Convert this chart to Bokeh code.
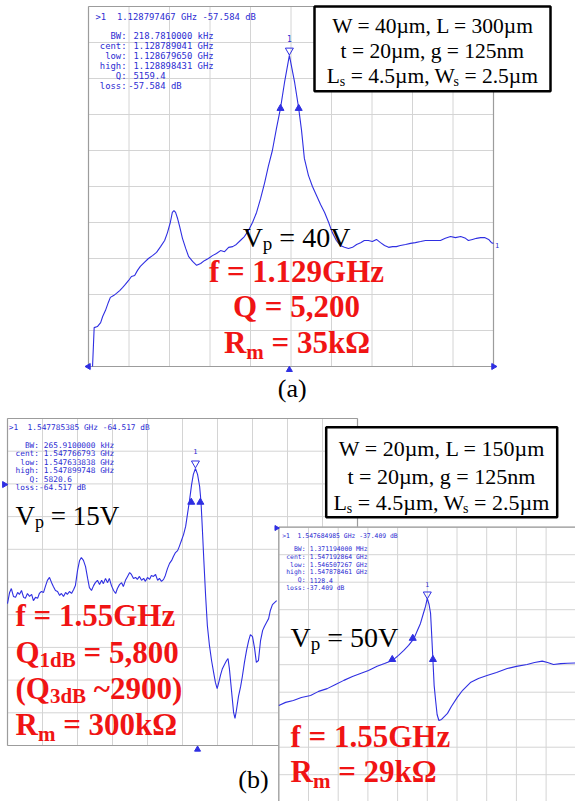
from bokeh.plotting import figure
from bokeh.models import Range1d
from bokeh.core.properties import value
from bokeh.embed import file_html
from bokeh.resources import INLINE

# ---------------------------------------------------------------- data
# Panel (a): W=40um, L=300um, Vp=40V  (x: sweep position in screen divisions, y: |S21| in divisions)
a_freq_div = [0.10, 0.14, 0.22, 0.30, 0.35, 0.42, 0.49, 0.54, 0.62, 0.69,
              0.77, 0.84, 0.91, 0.99, 1.06, 1.14, 1.21, 1.28, 1.38, 1.48,
              1.58, 1.68, 1.78, 1.88, 1.95, 2.02, 2.07, 2.11, 2.15, 2.20,
              2.25, 2.32, 2.40, 2.47, 2.57, 2.67, 2.77, 2.86, 2.96, 3.06,
              3.16, 3.26, 3.36, 3.46, 3.56, 3.65, 3.75, 3.85, 3.95, 4.05,
              4.15, 4.25, 4.35, 4.44, 4.54, 4.64, 4.74, 4.84, 4.96, 5.09,
              5.19, 5.26, 5.33, 5.43, 5.53, 5.63, 5.73, 5.83, 5.93, 6.02,
              6.12, 6.22, 6.32, 6.42, 6.52, 6.62, 6.72, 6.81, 6.91, 7.01,
              7.11, 7.21, 7.31, 7.41, 7.51, 7.60, 7.70, 7.83, 7.95, 8.07,
              8.20, 8.32, 8.44, 8.57, 8.69, 8.81, 8.94, 9.06, 9.19, 9.31,
              9.38, 9.48, 9.58, 9.68, 9.78, 9.88, 9.95, 10.00]
a_mag_div = [0.00, 1.08, 1.11, 1.22, 1.39, 1.56, 1.78, 1.92, 1.97, 2.03,
             2.11, 2.19, 2.28, 2.39, 2.50, 2.53, 2.67, 2.78, 2.89, 3.00,
             3.08, 3.17, 3.33, 3.50, 3.72, 4.00, 4.28, 4.33, 4.28, 4.11,
             3.89, 3.56, 3.28, 3.06, 2.92, 2.81, 2.86, 2.94, 3.00, 3.08,
             3.14, 3.22, 3.19, 3.31, 3.33, 3.39, 3.50, 3.61, 3.78, 4.00,
             4.28, 4.67, 5.11, 5.56, 6.00, 6.61, 7.17, 7.89, 8.64, 7.89,
             7.17, 6.56, 5.78, 5.31, 5.00, 4.75, 4.50, 4.28, 4.00, 3.72,
             3.50, 3.36, 3.31, 3.28, 3.31, 3.39, 3.44, 3.50, 3.50, 3.47,
             3.53, 3.44, 3.36, 3.31, 3.33, 3.33, 3.36, 3.39, 3.42, 3.44,
             3.47, 3.50, 3.50, 3.50, 3.50, 3.56, 3.61, 3.58, 3.61, 3.56,
             3.50, 3.53, 3.56, 3.58, 3.58, 3.53, 3.44, 3.42]
a_peak = [4.96, 8.64]
a_bw_x = [4.74, 5.19]
a_bw_y = [7.17, 7.17]
a_head = [">1", "1.128797467 GHz -57.584 dB"]
a_vals = ["218.7810000 kHz", "1.128789041 GHz", "1.128679650 GHz",
          "1.128898431 GHz", "5159.4", "-57.584 dB"]

# Panel (b) left: W=20um, L=150um, Vp=15V
b1_freq_div = [0.00, 0.06, 0.11, 0.17, 0.23, 0.29, 0.34, 0.40, 0.46, 0.51,
               0.57, 0.63, 0.69, 0.74, 0.80, 0.86, 0.91, 0.97, 1.03, 1.09,
               1.14, 1.20, 1.26, 1.31, 1.37, 1.43, 1.49, 1.54, 1.60, 1.66,
               1.71, 1.77, 1.83, 1.89, 1.94, 2.00, 2.06, 2.11, 2.17, 2.23,
               2.29, 2.34, 2.40, 2.46, 2.51, 2.57, 2.63, 2.69, 2.74, 2.80,
               2.86, 2.91, 2.97, 3.03, 3.09, 3.14, 3.20, 3.26, 3.31, 3.37,
               3.43, 3.49, 3.54, 3.60, 3.66, 3.71, 3.77, 3.83, 3.89, 3.94,
               4.00, 4.06, 4.11, 4.17, 4.23, 4.29, 4.34, 4.40, 4.46, 4.51,
               4.57, 4.63, 4.69, 4.74, 4.80, 4.86, 4.91, 4.97, 5.03, 5.09,
               5.14, 5.20, 5.26, 5.31, 5.37, 5.43, 5.49, 5.53, 5.57, 5.61,
               5.66, 5.71, 5.77, 5.83, 5.89, 5.94, 5.99, 6.03, 6.09, 6.14,
               6.20, 6.26, 6.30, 6.34, 6.40, 6.46, 6.50, 6.54, 6.60, 6.66,
               6.71, 6.77, 6.83, 6.89, 6.94, 7.00, 7.06, 7.11, 7.17, 7.23,
               7.29, 7.34, 7.40, 7.46, 7.51, 7.57, 7.63, 7.69]
b1_mag_div = [4.34, 4.68, 4.80, 4.56, 4.53, 4.68, 4.62, 4.74, 4.53, 4.50,
              4.65, 4.56, 4.62, 4.43, 4.53, 4.50, 4.65, 4.71, 4.68, 4.89,
              5.05, 5.14, 4.98, 4.86, 4.74, 4.71, 4.59, 4.65, 4.56, 4.68,
              4.62, 4.71, 4.65, 4.77, 4.89, 5.35, 5.66, 5.75, 5.66, 5.47,
              5.11, 4.83, 4.74, 4.89, 4.98, 5.05, 4.92, 5.05, 4.95, 5.11,
              4.98, 5.11, 4.89, 4.74, 4.65, 4.80, 4.92, 4.98, 4.86, 5.05,
              5.17, 5.29, 5.23, 5.11, 5.14, 5.08, 5.17, 5.05, 5.11, 5.02,
              5.14, 5.08, 5.20, 5.17, 5.23, 5.05, 5.11, 5.02, 5.08, 5.20,
              5.41, 5.57, 5.66, 5.78, 5.90, 5.96, 6.09, 6.27, 6.45, 6.70,
              7.06, 7.49, 7.98, 8.29, 8.47, 8.29, 7.92, 7.43, 6.57, 5.66,
              4.59, 3.67, 3.06, 2.60, 2.23, 1.93, 1.74, 1.90, 2.17, 2.35,
              2.48, 2.60, 2.66, 2.35, 1.68, 1.01, 0.83, 1.07, 1.50, 1.80,
              2.11, 2.54, 2.91, 3.21, 3.39, 3.33, 2.97, 2.54, 2.60, 3.21,
              3.52, 3.64, 3.76, 3.88, 4.13, 4.31, 4.37, 4.43]
b1_peak = [5.37, 8.47]
b1_bw_x = [5.25, 5.51]
b1_bw_y = [7.44, 7.44]
b1_head = [">1", "1.547785385 GHz -64.517 dB"]
b1_vals = ["265.9100000 kHz", "1.547766793 GHz", "1.547633838 GHz",
           "1.547899748 GHz", "5820.6", "-64.517 dB"]

# Panel (b) right: Vp=50V
b2_freq_div = [0.00, 0.23, 0.49, 0.76, 1.07, 1.34, 1.63, 1.91, 2.19, 2.48,
               2.75, 3.02, 3.31, 3.56, 3.82, 4.03, 4.21, 4.37, 4.55, 4.67,
               4.77, 4.87, 4.94, 5.00, 5.06, 5.11, 5.14, 5.19, 5.23, 5.28,
               5.33, 5.39, 5.48, 5.58, 5.68, 5.81, 6.01, 6.19, 6.45, 6.72,
               7.01, 7.33, 7.69, 8.00, 8.36, 8.61, 8.87, 9.05, 9.25, 9.49,
               9.72, 9.99]
b2_mag_div = [3.52, 3.63, 3.70, 3.81, 3.88, 4.03, 4.13, 4.28, 4.43, 4.57,
              4.68, 4.79, 4.94, 5.04, 5.15, 5.34, 5.52, 5.70, 5.95, 6.25,
              6.50, 6.87, 7.12, 7.41, 7.19, 6.87, 6.25, 5.15, 4.25, 3.70,
              3.19, 2.97, 3.01, 3.12, 3.23, 3.48, 3.81, 4.07, 4.35, 4.50,
              4.61, 4.72, 4.86, 4.94, 5.01, 5.08, 5.13, 5.08, 5.01, 5.04,
              5.05, 5.06]
b2_peak = [5.00, 7.41]
b2_bw_x = [3.82, 4.51, 5.19]
b2_bw_y = [5.19, 5.96, 5.19]
b2_head = [">1", "1.547684985 GHz -37.409 dB"]
b2_vals = ["1.371194000 MHz", "1.547192864 GHz", "1.546507267 GHz",
           "1.547878461 GHz", "1128.4", "-37.409 dB"]

readout_labels = ["BW:", "cent:", "low:", "high:", "Q:", "loss:"]

# ---------------------------------------------------------------- style
W, H = 575, 801
TRACE = "#2f2fe2"
TBLUE = "#2c2cd2"
GRID = "#d4d4d4"
FRAME = "#9c9c9c"
RED = "#f01414"
SERIF = value("Liberation Serif")
MONO = value("DejaVu Sans Mono")
KB = 0.35   # correction: renderer places the alphabetic baseline ~0.35 em below y

p = figure(width=W, height=H, x_range=Range1d(0, W), y_range=Range1d(H, 0),
           output_backend="svg", toolbar_location=None,
           x_axis_location=None, y_axis_location=None, min_border=0,
           outline_line_color=None, background_fill_color="white",
           border_fill_color="white")
p.xgrid.visible = False
p.ygrid.visible = False

# screen placement of the three analyser panels (left, right, top, bottom in px)
PANELS = {"a": (88.0, 493.0, 6.0, 366.0),
          "b1": (7.0, 357.0, 418.0, 745.0),
          "b2": (278.3, 575.3, 526.7, 801.7)}
xr, yr = {}, {}
for nm, (x0, x1, yt, yb) in PANELS.items():
    sx = (x1 - x0) / 10.0
    sy = (yb - yt) / 10.0
    xr[nm] = Range1d(start=-x0 / sx, end=(W - x0) / sx)
    yr[nm] = Range1d(start=(yb - H) / sy, end=yb / sy)
p.extra_x_ranges = xr
p.extra_y_ranges = yr


def R(nm):
    return dict(x_range_name=nm, y_range_name=nm)


def panel_grid(nm, sides):
    ks = list(range(11))
    p.segment(x0=ks, y0=[0] * 11, x1=ks, y1=[10] * 11, line_color=GRID, line_width=1, **R(nm))
    p.segment(x0=[0] * 11, y0=ks, x1=[10] * 11, y1=ks, line_color=GRID, line_width=1, **R(nm))
    edges = {"left": (0, 0, 0, 10), "right": (10, 0, 10, 10),
             "top": (0, 10, 10, 10), "bottom": (0, 0, 10, 0)}
    sel = [edges[s] for s in sides]
    p.segment(x0=[e[0] for e in sel], y0=[e[1] for e in sel],
              x1=[e[2] for e in sel], y1=[e[3] for e in sel],
              line_color=FRAME, line_width=1.2, **R(nm))


def trace(nm, xs, ys, peak, bwx, bwy, dy_mark, label_size):
    p.line(xs, ys, line_color=TRACE, line_width=1.1, **R(nm))
    p.scatter(bwx, bwy, marker="triangle", size=7, fill_color=TRACE, line_color=TRACE, **R(nm))
    p.scatter([peak[0]], [peak[1] + dy_mark], marker="inverted_triangle", size=8,
              fill_color=None, line_color=TRACE, line_width=1, **R(nm))
    p.text(x=[peak[0]], y=[peak[1] + 3.3 * dy_mark], text=["1"], text_font=MONO,
           text_font_size=f"{label_size}px", text_color=TBLUE, text_align="center",
           text_baseline="alphabetic", **R(nm))


def readout(x_first, y_first, x_lab, x_val, y0, dy, size, head, vals):
    cw = 0.602 * size
    fs = f"{size}px"
    off = KB * size
    p.text(x=[x_first], y=[y_first - off], text=[head[0]], text_font=MONO, text_font_size=fs,
           text_color=TBLUE, text_baseline="alphabetic")
    p.text(x=[x_first + 4 * cw], y=[y_first - off], text=[head[1]], text_font=MONO, text_font_size=fs,
           text_color=TBLUE, text_baseline="alphabetic")
    ys = [y0 + i * dy - off for i in range(len(readout_labels))]
    p.text(x=[x_lab] * len(ys), y=ys, text=readout_labels, text_font=MONO, text_font_size=fs,
           text_color=TBLUE, text_align="right", text_baseline="alphabetic")
    xs = [x_val - cw if v.startswith("-") else x_val for v in vals]
    p.text(x=xs, y=ys, text=vals, text_font=MONO, text_font_size=fs,
           text_color=TBLUE, text_align="left", text_baseline="alphabetic")


REG = {" ": .25, "(": .333, ")": .333, ",": .25, ".": .25, "=": .564, "~": .541,
       "V": .722, "W": .944, "L": .611, "a": .444, "b": .5, "g": .5, "m": .778,
       "n": .5, "p": .5, "s": .389, "t": .278, "µ": .5, "k": .5}
BOLD = {" ": .25, "(": .333, ")": .333, ",": .25, ".": .25, "=": .57, "~": .52,
        "B": .667, "G": .778, "H": .778, "Q": .778, "R": .722, "d": .556, "f": .333,
        "k": .556, "m": .833, "z": .444, "Ω": .77}


def tw(s, size, bold):
    tab = BOLD if bold else REG
    return sum(tab.get(c, .5) for c in s) * size


def rich(x, y, parts, align="left", color="black", bold=False):
    total = sum(tw(t, s, bold) for t, s, _ in parts)
    cx = x - total / 2 if align == "center" else x
    for t, s, dy in parts:
        lead = len(t) - len(t.lstrip(" "))
        body = t.lstrip(" ")
        p.text(x=[cx + tw(" " * lead, s, bold)], y=[y + dy - KB * s], text=[body], text_font=SERIF,
               text_font_size=f"{s}px", text_font_style="bold" if bold else "normal",
               text_color=color, text_align="left", text_baseline="alphabetic")
        cx += tw(t, s, bold)


# ---------------------------------------------------------------- panel (a)
panel_grid("a", ["left", "right", "top", "bottom"])
trace("a", a_freq_div, a_mag_div, a_peak, a_bw_x, a_bw_y, 0.14, 8)
p.scatter([a_peak[0]], [-0.09], marker="triangle", size=6, fill_color=TRACE, line_color=TRACE, **R("a"))
p.scatter([0.0, 10.0], [0.0, 0.0], marker="triangle", angle=[1.5708, -1.5708], size=6,
          fill_color=TRACE, line_color=TRACE, **R("a"))
p.text(x=[a_freq_div[-1] + 0.04], y=[a_mag_div[-1] - 0.04], text=["1"], text_font=MONO,
       text_font_size="7px", text_color=TBLUE, text_baseline="alphabetic", **R("a"))
readout(95, 19.3, 126, 133, 39.0, 9.86, 8.9, a_head, a_vals)

# ---------------------------------------------------------------- panel (b) left
panel_grid("b1", ["left", "right", "top", "bottom"])
trace("b1", b1_freq_div, b1_mag_div, b1_peak, b1_bw_x, b1_bw_y, 0.16, 7)
p.scatter([b1_peak[0] + 0.06], [-0.12], marker="triangle", size=6, fill_color=TRACE, line_color=TRACE, **R("b1"))
p.scatter([-0.09], [7.98], marker="triangle", angle=-1.5708, size=6, fill_color=TRACE, line_color=TRACE, **R("b1"))
readout(8.3, 430.0, 38.5, 43.3, 447.7, 8.4, 7.8, b1_head, b1_vals)

# ---------------------------------------------------------------- panel (b) right (on top)
p.quad(left=[0], right=[10.5], bottom=[-0.5], top=[10], fill_color="white", line_color=None, **R("b2"))
panel_grid("b2", ["left", "top"])
trace("b2", b2_freq_div, b2_mag_div, b2_peak, b2_bw_x, b2_bw_y, 0.15, 6.5)
p.scatter([-0.08], [9.97], marker="triangle", angle=-1.5708, size=5, fill_color=TRACE, line_color=TRACE, **R("b2"))
readout(281.7, 538.0, 305.0, 309.3, 550.7, 7.8, 6.4, b2_head, b2_vals)

# ---------------------------------------------------------------- parameter boxes
p.quad(left=[314, 325.7], right=[550, 556.7], top=[6, 426.7], bottom=[90.7, 516.7],
       fill_color="white", line_color="black", line_width=2.5)
rich(431, 33.3, [("W = 40µm, L = 300µm", 21.5, 0)], "center")
rich(431, 58.3, [("t = 20µm, g = 125nm", 21.5, 0)], "center")
rich(431, 83.3, [("L", 21.5, 0), ("s", 14, 3), (" = 4.5µm, W", 21.5, 0), ("s", 14, 3),
                 (" = 2.5µm", 21.5, 0)], "center")
rich(440, 456.0, [("W = 20µm, L = 150µm", 22, 0)], "center")
rich(440, 483.3, [("t = 20µm, g = 125nm", 22, 0)], "center")
rich(440, 510.0, [("L", 22, 0), ("s", 14, 3), (" = 4.5µm, W", 22, 0), ("s", 14, 3),
                  (" = 2.5µm", 22, 0)], "center")

# ---------------------------------------------------------------- annotations
rich(296, 246.7, [("V", 28, 0), ("p", 19, 2.5), (" = 40V", 28, 0)], "center")
rich(296, 281.7, [("f = 1.129GHz", 31, 0)], "center", RED, True)
rich(296, 316.7, [("Q = 5,200", 31, 0)], "center", RED, True)
rich(296, 353.0, [("R", 31, 0), ("m", 21, 6), (" = 35kΩ", 31, 0)], "center", RED, True)
rich(291.7, 396.7, [("(a)", 26, 0)], "center")

rich(15, 525.0, [("V", 27, 0), ("p", 18, 2.5), (" = 15V", 27, 0)])
rich(15, 626.0, [("f = 1.55GHz", 31, 0)], "left", RED, True)
rich(15, 663.3, [("Q", 31, 0), ("1dB", 21, 4), (" = 5,800", 31, 0)], "left", RED, True)
rich(15, 699.0, [("(Q", 31, 0), ("3dB", 21, 4), (" ~2900)", 31, 0)], "left", RED, True)
rich(15, 735.0, [("R", 31, 0), ("m", 21, 6), (" = 300kΩ", 31, 0)], "left", RED, True)
rich(253, 788.0, [("(b)", 26, 0)], "center")

rich(290, 646.7, [("V", 28, 0), ("p", 19, 2.5), (" = 50V", 28, 0)])
rich(290, 746.7, [("f = 1.55GHz", 31, 0)], "left", RED, True)
rich(290, 781.7, [("R", 31, 0), ("m", 21, 6), (" = 29kΩ", 31, 0)], "left", RED, True)

open("out.html", "w").write(file_html(p, INLINE))
